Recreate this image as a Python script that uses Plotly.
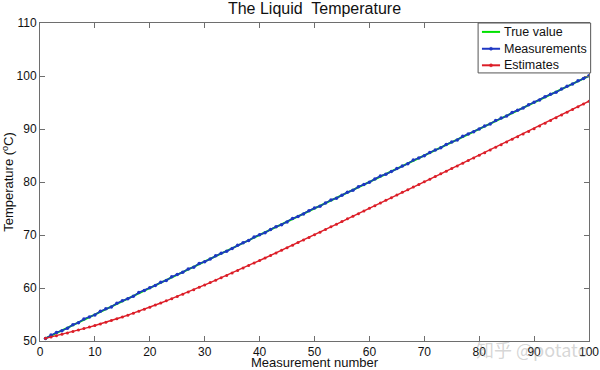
import plotly.graph_objects as go

measurement_number = list(range(1, 101))

true_value = [
    50.5, 51.0, 51.5, 52.0, 52.5, 53.0, 53.5, 54.0, 54.5, 55.0,
    55.5, 56.0, 56.5, 57.0, 57.5, 58.0, 58.5, 59.0, 59.5, 60.0,
    60.5, 61.0, 61.5, 62.0, 62.5, 63.0, 63.5, 64.0, 64.5, 65.0,
    65.5, 66.0, 66.5, 67.0, 67.5, 68.0, 68.5, 69.0, 69.5, 70.0,
    70.5, 71.0, 71.5, 72.0, 72.5, 73.0, 73.5, 74.0, 74.5, 75.0,
    75.5, 76.0, 76.5, 77.0, 77.5, 78.0, 78.5, 79.0, 79.5, 80.0,
    80.5, 81.0, 81.5, 82.0, 82.5, 83.0, 83.5, 84.0, 84.5, 85.0,
    85.5, 86.0, 86.5, 87.0, 87.5, 88.0, 88.5, 89.0, 89.5, 90.0,
    90.5, 91.0, 91.5, 92.0, 92.5, 93.0, 93.5, 94.0, 94.5, 95.0,
    95.5, 96.0, 96.5, 97.0, 97.5, 98.0, 98.5, 99.0, 99.5, 100.0,
]

measurements = [
    50.48, 51.13, 51.62, 51.95, 52.41, 53.08, 53.46, 54.17, 54.55, 54.92,
    55.61, 56.07, 56.43, 57.12, 57.58, 57.96, 58.44, 59.15, 59.53, 60.04,
    60.47, 61.09, 61.42, 62.11, 62.55, 62.97, 63.60, 63.93, 64.62, 64.95,
    65.48, 66.10, 66.57, 66.94, 67.46, 68.08, 68.53, 68.95, 69.62, 70.04,
    70.43, 71.06, 71.58, 71.93, 72.47, 73.12, 73.49, 73.96, 74.58, 75.09,
    75.44, 76.03, 76.61, 76.95, 77.52, 78.07, 78.43, 79.10, 79.54, 79.97,
    80.56, 81.12, 81.46, 81.98, 82.57, 83.04, 83.45, 84.13, 84.52, 84.96,
    85.58, 86.05, 86.44, 87.09, 87.53, 87.94, 88.61, 89.06, 89.47, 90.02,
    90.55, 90.96, 91.59, 92.08, 92.43, 93.11, 93.52, 93.97, 94.56, 95.04,
    95.45, 96.08, 96.57, 96.93, 97.54, 98.06, 98.47, 99.12, 99.55, 100.03,
]

estimates = [
    50.50, 50.75, 51.00, 51.26, 51.52, 51.79, 52.06, 52.34, 52.63, 52.93,
    53.23, 53.54, 53.86, 54.19, 54.53, 54.88, 55.24, 55.61, 55.99, 56.38,
    56.77, 57.17, 57.58, 57.99, 58.41, 58.83, 59.26, 59.69, 60.13, 60.57,
    61.02, 61.47, 61.92, 62.38, 62.84, 63.30, 63.77, 64.24, 64.71, 65.18,
    65.66, 66.14, 66.62, 67.10, 67.59, 68.08, 68.57, 69.06, 69.55, 70.04,
    70.54, 71.03, 71.55, 72.04, 72.53, 73.05, 73.54, 74.03, 74.55, 75.04,
    75.53, 76.05, 76.55, 77.04, 77.54, 78.05, 78.54, 79.04, 79.55, 80.04,
    80.54, 81.05, 81.54, 82.04, 82.55, 83.04, 83.54, 84.05, 84.55, 85.04,
    85.54, 86.04, 86.55, 87.04, 87.54, 88.05, 88.54, 89.04, 89.55, 90.04,
    90.56, 91.08, 91.60, 92.12, 92.64, 93.16, 93.68, 94.20, 94.72, 95.24,
]

series_names = ["True value", "Measurements", "Estimates"]
x_ticks = [0, 10, 20, 30, 40, 50, 60, 70, 80, 90, 100]
y_ticks = [50, 60, 70, 80, 90, 100, 110]

FONT = "Liberation Sans, Arial, sans-serif"
AXIS_COLOR = "#6e6e6e"
BLUE = "rgb(30,55,195)"
RED = "rgb(220,30,40)"
GREEN = "rgb(0,225,0)"
COLORS = [GREEN, BLUE, RED]
HAS_MARKER = [False, True, True]

fig = go.Figure()
fig.add_trace(go.Scatter(
    x=measurement_number, y=true_value, name=series_names[0], mode="lines",
    line=dict(color=GREEN, width=2),
))
fig.add_trace(go.Scatter(
    x=measurement_number, y=measurements, name=series_names[1], mode="lines+markers",
    line=dict(color=BLUE, width=1.5),
    marker=dict(size=3.5, color=BLUE),
))
fig.add_trace(go.Scatter(
    x=measurement_number, y=estimates, name=series_names[2], mode="lines+markers",
    line=dict(color=RED, width=1.4),
    marker=dict(size=3, color=RED),
))

axis_common = dict(
    showgrid=False, zeroline=False, showline=True, linecolor=AXIS_COLOR, linewidth=1,
    mirror="ticks", ticks="inside", ticklen=5, tickcolor=AXIS_COLOR,
    tickfont=dict(family=FONT, size=12, color="#111"), automargin=False,
)

fig.update_layout(
    width=600, height=370,
    margin=dict(l=40, r=11, t=23, b=29),
    paper_bgcolor="white", plot_bgcolor="white",
    title=dict(text="The Liquid  Temperature", xref="paper", x=0.5, xanchor="center",
               yref="container", y=0.977, yanchor="middle",
               font=dict(family=FONT, size=16, color="#111")),
    xaxis=dict(range=[0, 100], tickvals=x_ticks,
               title=dict(text="Measurement number", standoff=3,
                          font=dict(family=FONT, size=13, color="#111")),
               **axis_common),
    yaxis=dict(range=[50, 110], tickvals=y_ticks,
               title=dict(text="Temperature (<sup>o</sup>C)", standoff=0,
                          font=dict(family=FONT, size=13, color="#111")),
               **axis_common),
    showlegend=False,
)

# Legend box in the MATLAB style (top-right, inside the axes)
LEG_X0, LEG_X1 = 0.798, 1.003
LEG_Y0, LEG_Y1 = 0.843, 1.0
fig.add_shape(type="rect", xref="paper", yref="paper",
              x0=LEG_X0, x1=LEG_X1, y0=LEG_Y0, y1=LEG_Y1,
              fillcolor="white", line=dict(color="#555", width=1), layer="above")
row_y = [0.972, 0.919, 0.867]
for name, color, mk, yy in zip(series_names, COLORS, HAS_MARKER, row_y):
    fig.add_shape(type="line", xref="paper", yref="paper",
                  x0=0.805, x1=0.838, y0=yy, y1=yy,
                  line=dict(color=color, width=2), layer="above")
    if mk:
        fig.add_shape(type="circle", xref="paper", yref="paper",
                      x0=0.8215 - 0.0028, x1=0.8215 + 0.0028,
                      y0=yy - 0.0048, y1=yy + 0.0048,
                      fillcolor=color, line=dict(color=color, width=0.5), layer="above")
    fig.add_annotation(text=name, xref="paper", yref="paper", x=0.842, y=yy,
                       xanchor="left", yanchor="middle", showarrow=False,
                       font=dict(family=FONT, size=12.5, color="#111"))

fig.add_annotation(
    text="知乎 @potato", xref="paper", yref="paper", x=1.002, y=-0.025,
    xanchor="right", yanchor="middle", showarrow=False,
    font=dict(family="Noto Sans CJK SC", size=18, color="rgba(150,150,150,0.4)"),
)

fig.write_html("out.html",
               config={"displayModeBar": False},
               post_script="document.body.style.margin='0';document.body.style.padding='0';")
